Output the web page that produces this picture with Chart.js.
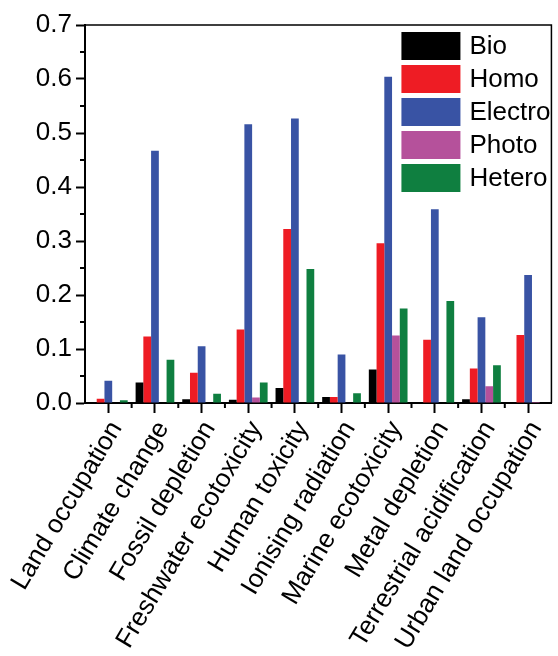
<!DOCTYPE html>
<html>
<head>
<meta charset="utf-8">
<script src="https://cdn.jsdelivr.net/npm/chart.js@4"></script>
<style>
  html, body { margin: 0; padding: 0; background: #fff; }
  #chart { display: block; }
</style>
</head>
<body>
<canvas id="chart" width="558" height="656"></canvas>
<script>
const categories = [
    'Land occupation', 'Climate change', 'Fossil depletion', 'Freshwater ecotoxicity',
    'Human toxicity', 'Ionising radiation', 'Marine ecotoxicity', 'Metal depletion',
    'Terrestrial acidification', 'Urban land occupation'
];
const bio     = [0.000, 0.038, 0.007, 0.006, 0.028, 0.011, 0.062, 0.000, 0.007, 0.000];
const homo    = [0.008, 0.123, 0.056, 0.136, 0.322, 0.011, 0.296, 0.117, 0.064, 0.126];
const electro = [0.041, 0.467, 0.105, 0.516, 0.527, 0.090, 0.604, 0.359, 0.159, 0.237];
const photo   = [0.000, 0.000, 0.000, 0.010, 0.000, 0.000, 0.125, 0.000, 0.031, 0.002];
const hetero  = [0.005, 0.080, 0.017, 0.038, 0.248, 0.018, 0.175, 0.189, 0.070, 0.000];
const yTicks  = [0.0, 0.1, 0.2, 0.3, 0.4, 0.5, 0.6, 0.7];

const FONT = '"Liberation Sans", Arial, sans-serif';
Chart.defaults.font.family = FONT;
Chart.defaults.color = '#000';

// frame, minor ticks and the inset legend
const decorations = {
    id: 'decorations',
    afterDraw(chart) {
        const ctx = chart.ctx;
        const a = chart.chartArea;
        const x = chart.scales.x, y = chart.scales.y;
        ctx.save();
        ctx.strokeStyle = '#000';
        ctx.lineWidth = 1.5;
        ctx.beginPath();
        ctx.moveTo(a.left, a.top);
        ctx.lineTo(a.right, a.top);
        ctx.lineTo(a.right, a.bottom);
        ctx.stroke();

        // minor ticks
        ctx.lineWidth = 2;
        ctx.beginPath();
        for (let i = 0; i < yTicks.length - 1; i++) {
            const py = y.getPixelForValue(yTicks[i] + 0.05);
            ctx.moveTo(a.left - 5, py);
            ctx.lineTo(a.left, py);
        }
        for (let i = 0; i < categories.length - 1; i++) {
            const px = (x.getPixelForValue(i) + x.getPixelForValue(i + 1)) / 2;
            ctx.moveTo(px, a.bottom);
            ctx.lineTo(px, a.bottom + 5);
        }
        ctx.stroke();

        // legend
        ctx.font = '26px ' + FONT;
        ctx.textBaseline = 'middle';
        ctx.textAlign = 'left';
        chart.data.datasets.forEach((ds, i) => {
            const top = a.top + 7 + i * 33;
            ctx.fillStyle = ds.backgroundColor;
            ctx.fillRect(a.right - 150, top, 59, 28);
            ctx.fillStyle = '#000';
            ctx.fillText(ds.label, a.right - 82, top + 15);
        });
        ctx.restore();
    }
};

new Chart(document.getElementById('chart'), {
    type: 'bar',
    data: {
        labels: categories,
        datasets: [
            { label: 'Bio', data: bio, backgroundColor: '#000000' },
            { label: 'Homo', data: homo, backgroundColor: '#ee1c24' },
            { label: 'Electro', data: electro, backgroundColor: '#3953a4' },
            { label: 'Photo', data: photo, backgroundColor: '#b5519b' },
            { label: 'Hetero', data: hetero, backgroundColor: '#0f7f40' }
        ]
    },
    plugins: [decorations],
    options: {
        responsive: false,
        animation: false,
        layout: { padding: { top: 25, right: 3, left: 0, bottom: 0 } },
        datasets: {
            bar: { categoryPercentage: 0.83, barPercentage: 1.0 }
        },
        plugins: {
            legend: { display: false },
            tooltip: { enabled: false }
        },
        scales: {
            x: {
                offset: true,
                grid: {
                    offset: false,
                    drawOnChartArea: false,
                    drawTicks: true,
                    tickLength: 10,
                    tickColor: '#000',
                    tickWidth: 2
                },
                border: { color: '#000', width: 2 },
                ticks: {
                    autoSkip: false,
                    minRotation: 59,
                    maxRotation: 59,
                    padding: 3,
                    labelOffset: 8,
                    font: { size: 26 }
                },
                afterFit(scale) { scale.height = 253; }
            },
            y: {
                min: 0,
                max: 0.7,
                grid: {
                    drawOnChartArea: false,
                    drawTicks: true,
                    tickLength: 9,
                    tickColor: '#000',
                    tickWidth: 2
                },
                border: { color: '#000', width: 2 },
                ticks: {
                    stepSize: 0.1,
                    padding: 4,
                    font: { size: 26 },
                    callback: (v) => Number(v).toFixed(1)
                },
                afterFit(scale) { scale.width = 85; }
            }
        }
    }
});
</script>
</body>
</html>
